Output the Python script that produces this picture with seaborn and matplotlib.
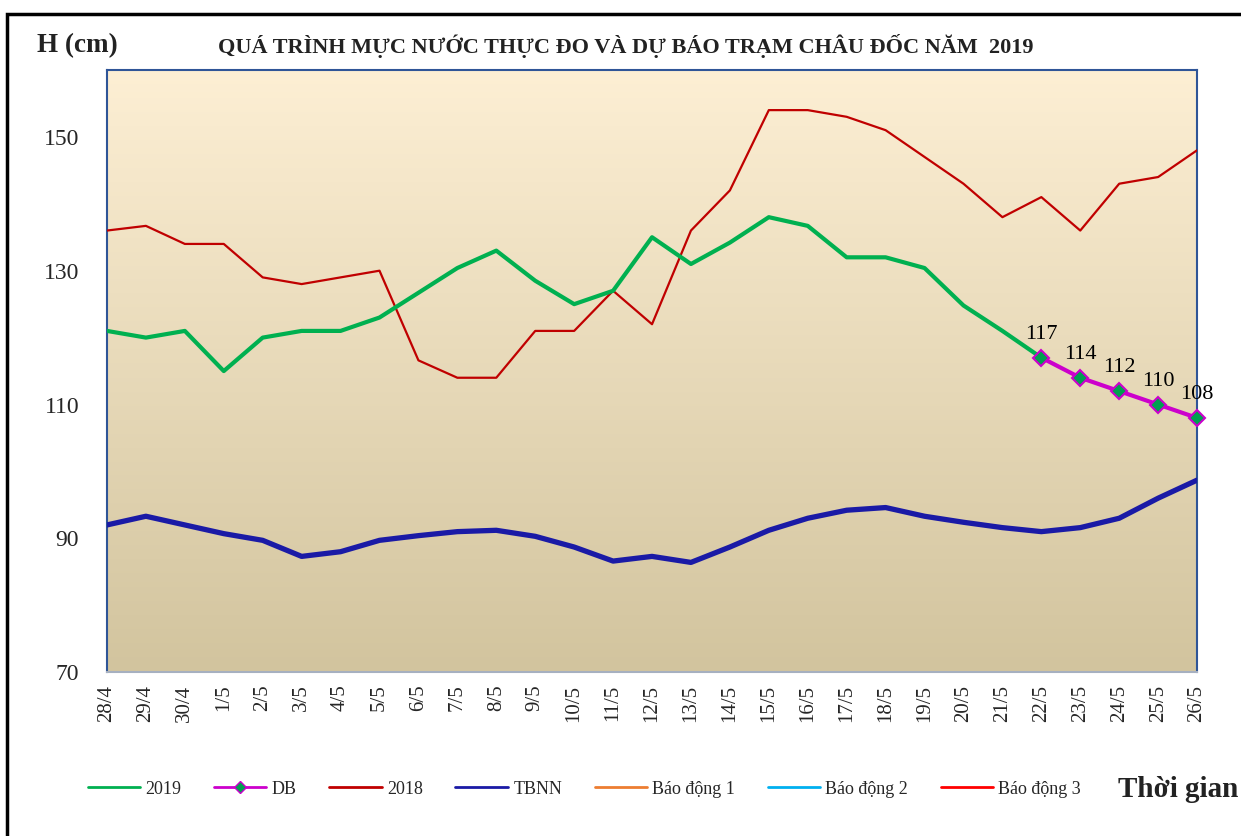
import numpy as np
import pandas as pd
import seaborn as sns
import matplotlib.pyplot as plt
from matplotlib.lines import Line2D
from matplotlib.patches import Rectangle

# -----------------------------
# Data
# -----------------------------

dates = ["28/4", "29/4", "30/4", "1/5", "2/5", "3/5", "4/5", "5/5", "6/5", "7/5",
         "8/5", "9/5", "10/5", "11/5", "12/5", "13/5", "14/5", "15/5", "16/5", "17/5",
         "18/5", "19/5", "20/5", "21/5", "22/5", "23/5", "24/5", "25/5", "26/5"]

h2019 = [121, 120, 121, 115, 120, 121, 121, 123, 126.7, 130.4,
         133, 128.5, 125, 127, 135, 131, 134.2, 138, 136.7, 132,
         132, 130.4, 124.8, 121, 117]

db_dates = ["22/5", "23/5", "24/5", "25/5", "26/5"]
db_values = [117, 114, 112, 110, 108]

h2018 = [136, 136.7, 134, 134, 129, 128, 129, 130, 116.6, 114,
         114, 121, 121, 127, 122, 136, 142, 154, 154, 153,
         151, 147, 143, 138, 141, 136, 143, 144, 148]

tbnn = [92, 93.3, 92, 90.7, 89.7, 87.3, 88, 89.7, 90.4, 91,
        91.2, 90.3, 88.7, 86.6, 87.3, 86.4, 88.7, 91.2, 93, 94.2,
        94.6, 93.3, 92.4, 91.6, 91, 91.6, 93, 96, 98.7]

legend_labels = ["2019", "DB", "2018", "TBNN", "Báo động 1", "Báo động 2", "Báo động 3"]

# -----------------------------
# Setup
# -----------------------------

sns.set_style("white")
plt.rcParams["font.family"] = ["Liberation Serif", "DejaVu Serif"]

fig = plt.figure(figsize=(12.41, 8.36), dpi=100)
ax = fig.add_axes([0.0862, 0.196, 0.8784, 0.7203])

# gradient background
grad = np.linspace(0, 1, 256).reshape(-1, 1)
top = np.array([253, 239, 212]) / 255
bot = np.array([210, 196, 158]) / 255
img = top + (bot - top) * grad[:, :, None]
ax.imshow(img, extent=[0, 1, 0, 1], transform=ax.transAxes, aspect="auto", zorder=0)

idx = {d: i for i, d in enumerate(dates)}

df2019 = pd.DataFrame({"x": [idx[d] for d in dates[:len(h2019)]], "y": h2019})
df2018 = pd.DataFrame({"x": range(len(dates)), "y": h2018})
dftb = pd.DataFrame({"x": range(len(dates)), "y": tbnn})
dfdb = pd.DataFrame({"x": [idx[d] for d in db_dates], "y": db_values})

sns.lineplot(data=df2018, x="x", y="y", ax=ax, color="#C00000", linewidth=1.6, zorder=3)
sns.lineplot(data=dftb, x="x", y="y", ax=ax, color="#1A1AA6", linewidth=3.8, zorder=3)
sns.lineplot(data=df2019, x="x", y="y", ax=ax, color="#00B050", linewidth=3.0, zorder=4)
sns.lineplot(data=dfdb, x="x", y="y", ax=ax, color="#CC00CC", linewidth=3.0,
             marker="D", markersize=8, markerfacecolor="#00A050",
             markeredgecolor="#CC00CC", markeredgewidth=1.5, zorder=5, clip_on=False)

for x, y in zip(dfdb["x"], dfdb["y"]):
    ax.annotate(f"{y:g}", (x, y), xytext=(0, 10), textcoords="offset points",
                ha="center", va="bottom", fontsize=16, color="black", zorder=6)

ax.set_xlim(0, len(dates) - 1)
ax.set_ylim(70, 160)
ax.set_yticks([70, 90, 110, 130, 150])
ax.set_xticks(range(len(dates)))
ax.set_xticklabels(dates, rotation=90, fontsize=15)
ax.tick_params(axis="y", labelsize=17, length=0, pad=20)
ax.tick_params(axis="x", length=0, pad=9)
ax.set_xlabel("")
ax.set_ylabel("")
ax.grid(False)

for s in ["top", "left", "right"]:
    ax.spines[s].set_color("#2F5597")
    ax.spines[s].set_linewidth(1.5)
ax.spines["bottom"].set_color("#A6B0C0")
ax.spines["bottom"].set_linewidth(1.5)

# texts
fig.text(0.030, 0.945, "H (cm)", fontsize=19.5, fontweight="bold", va="center", ha="left",
         color="#222222")
fig.text(0.504, 0.945, "QUÁ TRÌNH MỰC NƯỚC THỰC ĐO VÀ DỰ BÁO TRẠM CHÂU ĐỐC NĂM  2019",
         fontsize=16, fontweight="bold", va="center", ha="center", color="#222222")
fig.text(0.998, 0.056, "Thời gian", fontsize=21, fontweight="bold", va="center", ha="right",
         color="#222222")

# legend
handles = [
    Line2D([], [], color="#00B050", lw=2),
    Line2D([], [], color="#CC00CC", lw=2, marker="D", markersize=6,
           markerfacecolor="#00A050", markeredgecolor="#CC00CC"),
    Line2D([], [], color="#C00000", lw=2),
    Line2D([], [], color="#1A1AA6", lw=2),
    Line2D([], [], color="#ED7D31", lw=2),
    Line2D([], [], color="#00B0F0", lw=2),
    Line2D([], [], color="#FF0000", lw=2),
]
fig.legend(handles, legend_labels, loc="center", bbox_to_anchor=(0.471, 0.056), ncol=7,
           frameon=False, fontsize=13, handlelength=2.9, handletextpad=0.3,
           columnspacing=1.8)

# outer frame
fig.add_artist(Rectangle((7 / 1241, -0.05), 1.2, 1 - 14 / 836 + 0.05,
                         transform=fig.transFigure, fill=False, edgecolor="black",
                         linewidth=2.5, clip_on=False))

plt.savefig("out.png", dpi=100)
plt.close()
